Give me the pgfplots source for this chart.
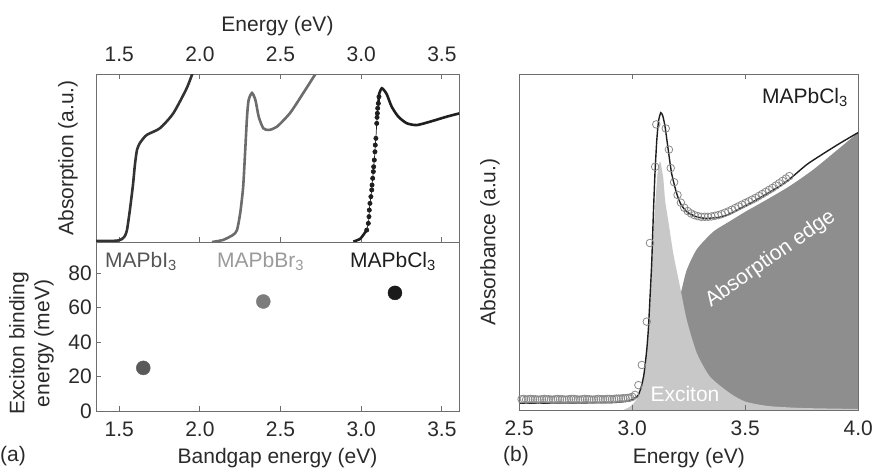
\documentclass[border=0pt]{standalone}
\usepackage{fontspec}
\setmainfont{Liberation Sans}
\usepackage{pgfplots}
\pgfplotsset{compat=1.18}
\definecolor{frame}{HTML}{6E6E6E}
\definecolor{txt}{HTML}{2A2A2A}
\definecolor{cI}{HTML}{333333}
\definecolor{cBr}{HTML}{6C6C6C}
\definecolor{cCl}{HTML}{1E1E1E}
\definecolor{dI}{HTML}{5A5A5A}
\definecolor{dBr}{HTML}{7C7C7C}
\definecolor{dCl}{HTML}{1A1A1A}
\definecolor{lI}{HTML}{555555}
\definecolor{lBr}{HTML}{9A9A9A}
\definecolor{edgegray}{HTML}{8E8E8E}
\definecolor{excgray}{HTML}{C8C8C8}
\definecolor{circgray}{HTML}{8A8A8A}
\newcommand{\fs}{\fontsize{21}{25}\selectfont}
\pgfplotsset{
  base/.style={
    scale only axis,
    axis line style={frame, line width=0.9pt},
    every tick/.style={frame, line width=0.9pt},
    major tick length=5pt,
    tick align=inside,
    /pgf/number format/assume math mode=true,
    ticklabel style={font=\fs, text=txt},
    label style={font=\fs, text=txt},
  }
}
\begin{document}
\fs
\begin{tikzpicture}
\path[use as bounding box] (0pt,0pt) rectangle (874pt,475pt);

% ---------- top-left: absorption spectra ----------
\begin{axis}[base,
  at={(96pt,233pt)}, anchor=south west,
  width=363pt, height=168pt,
  xmin=1.356, xmax=3.606, ymin=0, ymax=1,
  xtick={1.5,2,2.5,3,3.5}, xticklabels={1.5,2.0,2.5,3.0,3.5},
  xtick pos=both, xticklabel pos=upper,
  xticklabel style={yshift=5pt},
  ytick=\empty,
  xlabel={Energy (eV)},
  xlabel style={at={(axis description cs:0.5,1.2857)}, anchor=center},
  ylabel={Absorption (a.u.)},
  ylabel style={at={(axis description cs:-0.0771,0.5)}, anchor=center},
]
\addplot[cI, line width=2.6pt, smooth, tension=0.4] coordinates {
(1.356,0.006)(1.442,0.006)(1.492,0.009)(1.517,0.018)(1.535,0.036)(1.548,0.071)
(1.566,0.19)(1.585,0.339)(1.597,0.458)(1.610,0.548)(1.628,0.589)(1.670,0.637)
(1.752,0.677)(1.835,0.766)(1.918,0.915)(1.960,1.02)};
\addplot[cBr, line width=2.6pt, smooth, tension=0.4] coordinates {
(2.075,0.0)(2.143,0.012)(2.205,0.042)(2.230,0.071)(2.250,0.173)(2.268,0.327)
(2.281,0.548)(2.292,0.744)(2.302,0.845)(2.323,0.887)(2.344,0.845)(2.365,0.744)
(2.393,0.677)(2.427,0.667)(2.476,0.685)(2.559,0.768)(2.641,0.887)(2.724,1.012)};
\addplot[cCl, line width=2.6pt, smooth, tension=0.4] coordinates {
(2.951,0.002)(2.992,0.018)(3.013,0.042)(3.030,0.066)};
\addplot[cCl, line width=0.7pt, mark=*, mark size=2.1pt] coordinates {
(3.034,0.071)(3.044,0.111)(3.048,0.151)(3.050,0.190)(3.054,0.230)(3.060,0.270)
(3.065,0.310)(3.067,0.339)(3.071,0.379)(3.075,0.419)(3.077,0.448)(3.081,0.488)
(3.085,0.537)(3.087,0.577)(3.091,0.617)(3.096,0.706)(3.098,0.742)(3.100,0.766)
(3.102,0.796)(3.106,0.825)(3.110,0.865)};
\addplot[cCl, line width=2.6pt, smooth, tension=0.4] coordinates {
(3.106,0.825)(3.112,0.885)(3.127,0.915)(3.140,0.905)(3.158,0.880)(3.189,0.805)
(3.230,0.746)(3.282,0.707)(3.344,0.696)(3.426,0.716)(3.530,0.746)(3.610,0.766)};
\end{axis}

% ---------- bottom-left: exciton binding energy ----------
\begin{axis}[base,
  at={(96pt,64pt)}, anchor=south west,
  width=363pt, height=169pt,
  xmin=1.356, xmax=3.606, ymin=0, ymax=98,
  xtick={1.5,2,2.5,3,3.5}, xticklabels={1.5,2.0,2.5,3.0,3.5},
  xtick pos=bottom, ytick pos=left,
  ytick={0,20,40,60,80},
  xticklabel style={yshift=-4pt},
  yticklabel style={xshift=3pt},
  xlabel={Bandgap energy (eV)},
  xlabel style={at={(axis description cs:0.5,-0.278)}, anchor=center},
  ylabel={Exciton binding\\energy (meV)},
  ylabel style={align=center, at={(axis description cs:-0.1777,0.40)}, anchor=center},
  clip=false,
]
\addplot[only marks, mark=*, mark size=7pt, dI, mark options={draw=dI, fill=dI}] coordinates {(1.649,25)};
\addplot[only marks, mark=*, mark size=7pt, dBr, mark options={draw=dBr, fill=dBr}] coordinates {(2.393,63.5)};
\addplot[only marks, mark=*, mark size=7pt, dCl, mark options={draw=dCl, fill=dCl}] coordinates {(3.209,68.5)};
\node[anchor=base west, text=lI, inner sep=0pt] at (axis cs:1.411,83) {MAPbI\textsubscript{3}};
\node[anchor=base west, text=lBr, inner sep=0pt] at (axis cs:2.106,83) {MAPbBr\textsubscript{3}};
\node[anchor=base west, text=cCl, inner sep=0pt] at (axis cs:2.930,83) {MAPbCl\textsubscript{3}};
\end{axis}

% ---------- right: MAPbCl3 absorbance ----------
\begin{axis}[base,
  at={(519.3pt,65pt)}, anchor=south west,
  width=339pt, height=336pt,
  xmin=2.5, xmax=4, ymin=0, ymax=1,
  xtick={2.5,3,3.5,4}, xticklabels={2.5,3.0,3.5,4.0},
  xtick pos=both, xticklabel pos=lower,
  xticklabel style={yshift=-4pt},
  ytick=\empty,
  xlabel={Energy (eV)},
  xlabel style={at={(axis description cs:0.5,-0.1429)}, anchor=center},
  ylabel={Absorbance (a.u.)},
  ylabel style={at={(axis description cs:-0.0864,0.5)}, anchor=center},
  axis on top,
]
% absorption edge
\addplot[draw=none, fill=edgegray, smooth, tension=0.4] coordinates {
(3.06,0)(3.10,0.08)(3.15,0.19)(3.19,0.28)(3.218,0.357)(3.241,0.417)(3.285,0.478)
(3.357,0.530)(3.432,0.562)(3.50,0.590)(3.60,0.628)(3.70,0.668)(3.80,0.715)
(3.90,0.770)(4.0,0.826)} \closedcycle;
% exciton
\addplot[draw=none, fill=excgray, smooth, tension=0.4] coordinates {
(2.96,0)(2.99,0.010)(3.012,0.025)(3.034,0.050)(3.056,0.120)(3.078,0.300)
(3.096,0.550)(3.111,0.700)(3.123,0.740)(3.137,0.690)(3.145,0.625)(3.160,0.560)
(3.181,0.467)(3.211,0.367)(3.241,0.268)(3.285,0.170)(3.344,0.099)(3.432,0.050)
(3.50,0.025)(3.60,0.012)(3.75,0.006)(4.0,0.003)} \closedcycle;
% data circles
\addplot[only marks, mark=o, mark size=3.8pt, mark options={draw=circgray, line width=0.8pt}] coordinates {
(2.51,0.032)(2.52,0.033)(2.53,0.031)(2.54,0.032)(2.55,0.033)(2.56,0.032)(2.57,0.032)
(2.58,0.031)(2.59,0.031)(2.60,0.032)(2.61,0.033)(2.62,0.032)(2.63,0.032)(2.64,0.031)
(2.65,0.031)(2.66,0.032)(2.67,0.033)(2.68,0.032)(2.69,0.032)(2.70,0.031)(2.71,0.031)
(2.72,0.032)(2.73,0.033)(2.74,0.033)(2.75,0.032)(2.76,0.031)(2.77,0.031)(2.78,0.032)
(2.79,0.033)(2.80,0.032)(2.81,0.032)(2.82,0.031)(2.83,0.031)(2.84,0.032)(2.85,0.033)
(2.86,0.032)(2.87,0.032)(2.88,0.032)(2.89,0.033)(2.90,0.033)(2.91,0.032)(2.92,0.033)
(2.93,0.034)(2.94,0.034)(2.95,0.034)(2.96,0.035)(2.97,0.035)(2.98,0.036)(2.99,0.037)
(3.000,0.039)(3.012,0.045)(3.027,0.074)(3.042,0.134)(3.064,0.263)(3.078,0.497)(3.101,0.724)
(3.106,0.850)(3.148,0.838)(3.162,0.775)(3.170,0.720)(3.185,0.678)(3.200,0.640)
(3.215,0.617)(3.230,0.602)(3.245,0.592)(3.260,0.585)(3.275,0.580)(3.290,0.577)
(3.305,0.575)(3.320,0.575)(3.335,0.575)(3.350,0.576)(3.365,0.578)(3.380,0.580)
(3.395,0.583)(3.410,0.587)(3.425,0.591)(3.440,0.596)(3.455,0.601)(3.470,0.606)
(3.485,0.611)(3.500,0.616)(3.515,0.621)(3.530,0.626)(3.545,0.631)(3.560,0.637)
(3.575,0.643)(3.590,0.649)(3.605,0.655)(3.620,0.661)(3.635,0.668)(3.650,0.675)
(3.665,0.682)(3.680,0.689)(3.695,0.696)};
% fit
\addplot[cCl, line width=1.4pt, smooth, tension=0.35] coordinates {
(2.50,0.020)(2.70,0.021)(2.90,0.022)(2.95,0.024)(2.99,0.028)(3.01,0.035)
(3.027,0.045)(3.04,0.070)(3.05,0.100)(3.056,0.130)(3.064,0.180)(3.071,0.240)
(3.078,0.330)(3.086,0.440)(3.093,0.580)(3.100,0.700)(3.108,0.800)(3.116,0.860)
(3.126,0.885)(3.135,0.875)(3.145,0.843)(3.159,0.774)(3.174,0.704)(3.196,0.645)
(3.215,0.612)(3.241,0.590)(3.280,0.576)(3.314,0.571)(3.350,0.571)(3.388,0.574)
(3.430,0.583)(3.477,0.600)(3.535,0.620)(3.600,0.645)(3.683,0.680)(3.771,0.730)
(3.850,0.765)(3.919,0.794)(4.0,0.826)};
\node[text=cCl] at (axis cs:3.764,0.930) {MAPbCl\textsubscript{3}};
\node[text=white] at (axis cs:3.233,0.049) {Exciton};
\node[text=white, rotate=35] at (axis cs:3.612,0.450) {Absorption edge};
\end{axis}

\node[anchor=west, text=txt, inner sep=0pt] at (0pt,19pt) {(a)};
\node[anchor=west, text=txt, inner sep=0pt] at (503pt,19pt) {(b)};
\end{tikzpicture}
\end{document}
